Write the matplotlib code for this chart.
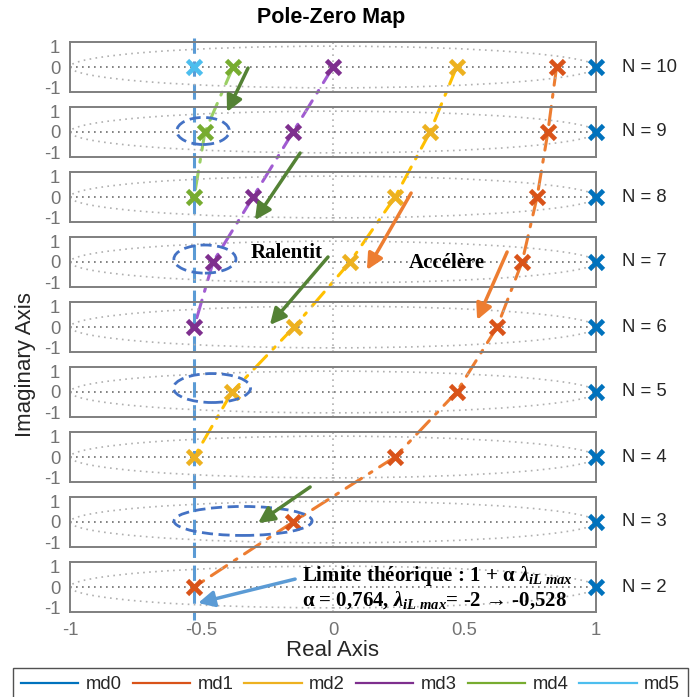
import matplotlib
matplotlib.use('Agg')
import matplotlib.pyplot as plt
from matplotlib.patches import Circle, Ellipse, ConnectionPatch
from matplotlib.lines import Line2D
import matplotlib.transforms as mtransforms

plt.rcParams['font.family'] = ['Liberation Sans', 'DejaVu Sans']
plt.rcParams['axes.unicode_minus'] = False
plt.rcParams['mathtext.fontset'] = 'custom'
plt.rcParams['mathtext.rm'] = 'Liberation Serif:bold'
plt.rcParams['mathtext.it'] = 'Liberation Serif:italic:bold'
plt.rcParams['mathtext.bf'] = 'Liberation Serif:bold'

# ---------------- data ----------------
N_values = [10, 9, 8, 7, 6, 5, 4, 3, 2]
mode_names = ['md0', 'md1', 'md2', 'md3', 'md4', 'md5']
# pole real parts per mode, listed from N=10 downwards
md0 = [1.0, 1.0, 1.0, 1.0, 1.0, 1.0, 1.0, 1.0, 1.0]
md1 = [0.85, 0.817, 0.776, 0.719, 0.624, 0.47, 0.236, -0.152, -0.528]
md2 = [0.47, 0.369, 0.236, 0.065, -0.148, -0.384, -0.528]
md3 = [0.0, -0.152, -0.304, -0.456, -0.528]
md4 = [-0.38, -0.487, -0.528]
md5 = [-0.528]
limit_value = -0.528
x_ticks = [-1, -0.5, 0, 0.5, 1]
x_ticklabels = ['-1', '-0.5', '0', '0.5', '1']
y_ticks = [-1, 0, 1]
y_ticklabels = ['-1', '0', '1']

modes = [md0, md1, md2, md3, md4, md5]
marker_colors = ['#0072BD', '#D95319', '#EDB120', '#7E2F8E', '#77AC30', '#4DBEEE']
path_colors = [None, '#ED7D31', '#FFC000', '#A15CD2', '#9BD065', None]

# ---------------- figure ----------------
W = H = 697
fig = plt.figure(figsize=(W / 100, H / 100), dpi=100)
fig.patch.set_facecolor('white')

left_px, right_px = 70, 596
top0, step, hpx = 42, 65, 50
spine_col = '#7f7f7f'
tick_col = '#737373'

axes = []
for i, N in enumerate(N_values):
    top = top0 + i * step
    ax = fig.add_axes([left_px / W, 1 - (top + hpx) / H,
                       (right_px - left_px) / W, hpx / H])
    ax.set_facecolor('none')
    ax.set_zorder(2)
    ax.set_xlim(-1, 1)
    ax.set_ylim(-1.2, 1.2)
    for s in ax.spines.values():
        s.set_color(spine_col)
        s.set_linewidth(1.4)
    ax.set_yticks(y_ticks)
    ax.set_yticklabels(y_ticklabels)
    ax.set_xticks(x_ticks)
    if i == len(N_values) - 1:
        ax.set_xticklabels(x_ticklabels)
    else:
        ax.set_xticklabels([])
    ax.tick_params(length=0, labelsize=13.3, colors=tick_col, pad=7)
    # grid: unit circle, real and imaginary axes
    ax.add_patch(Circle((0, 0), 1, fill=False, ec='#b0b0b0', lw=1.2,
                        ls=(0, (1, 2.6)), zorder=1))
    ax.axhline(0, color='#6e6e6e', lw=1.2, ls=(0, (1, 2.6)), zorder=1)
    ax.axvline(0, color='#b0b0b0', lw=1.2, ls=(0, (1, 2.6)), zorder=1)
    ax.text(1.05, 0.5, 'N = %d' % N, transform=ax.transAxes, ha='left',
            va='center', fontsize=13.3, color='#262626')
    axes.append(ax)

# poles
for vals, col in zip(modes, marker_colors):
    for k, v in enumerate(vals):
        axes[k].plot([v], [0], ls='none', marker='x', ms=10, mew=3.4,
                     color=col, clip_on=False, zorder=4)

# paths connecting the poles of one mode across N
for vals, col in zip(modes, path_colors):
    if col is None:
        continue
    for k in range(len(vals) - 1):
        con = ConnectionPatch(xyA=(vals[k], 0), coordsA=axes[k].transData,
                              xyB=(vals[k + 1], 0), coordsB=axes[k + 1].transData,
                              color=col, lw=2.2, linestyle=(0, (6, 3, 1, 3)),
                              zorder=1)
        fig.add_artist(con)

# theoretical limit line
blend = mtransforms.blended_transform_factory(axes[0].transData, fig.transFigure)
fig.add_artist(Line2D([limit_value, limit_value], [1 - 38 / H, 1 - 620 / H],
                      transform=blend, color='#5B9BD5', lw=2.2,
                      ls=(0, (5, 2.5)), zorder=1))

# annotation arrows: (panel_from, x, y, panel_to, x, y, color)
arrows = [
    (0, -0.323, -0.05, 1, -0.403, 0.96, '#548235'),
    (1, -0.125, -1.01, 2, -0.297, -1.11, '#548235'),
    (3, -0.019, 0.24, 4, -0.24, 0.10, '#548235'),
    (7, -0.087, 1.68, 7, -0.285, -0.05, '#548235'),
    (2, 0.297, 0.19, 3, 0.129, -0.38, '#ED7D31'),
    (3, 0.662, 0.48, 4, 0.548, 0.34, '#ED7D31'),
    (8, -0.144, 0.38, 8, -0.513, -0.77, '#5B9BD5'),
]
for pa, xa, ya, pb, xb, yb, col in arrows:
    arr = ConnectionPatch(xyA=(xa, ya), coordsA=axes[pa].transData,
                          xyB=(xb, yb), coordsB=axes[pb].transData,
                          arrowstyle='-|>', mutation_scale=24, color=col,
                          lw=2.5, shrinkA=0, shrinkB=0, zorder=5)
    fig.add_artist(arr)

# dashed highlight ellipses: (panel, cx, cy, w, h)
ellipses = [
    (1, -0.494, 0.05, 0.20, 1.30),
    (3, -0.487, 0.14, 0.236, 1.35),
    (5, -0.46, 0.19, 0.293, 1.39),
    (7, -0.342, 0.05, 0.525, 1.39),
]
for p, cx, cy, w, h in ellipses:
    axes[p].add_patch(Ellipse((cx, cy), w, h, fill=False, ec='#4472C4',
                              lw=2, ls=(0, (4, 2)), clip_on=False, zorder=5))

serif = ['Liberation Serif', 'DejaVu Serif']
axes[3].text(-0.177, 0.19, 'Ralentit', ha='center', va='baseline',
             fontsize=15, fontweight='bold', family=serif, clip_on=False, zorder=6)
axes[3].text(0.433, -0.29, 'Accélère', ha='center', va='baseline',
             fontsize=15, fontweight='bold', family=serif, clip_on=False, zorder=6)
axes[8].text(-0.118, 0.29, r'Limite théorique : 1 + α $\lambda_{iL\ max}$',
             ha='left', va='baseline', fontsize=15, fontweight='bold',
             family=serif, clip_on=False, zorder=6)
axes[8].text(-0.118, -0.91, r'α = 0,764, $\lambda_{iL\ max}$= -2 → -0,528',
             ha='left', va='baseline', fontsize=15, fontweight='bold',
             family=serif, clip_on=False, zorder=6)

# titles and labels
fig.text(331 / W, 1 - 18 / H, 'Pole-Zero Map', ha='center', va='center',
         fontsize=15.5, fontweight='bold', color='black')
fig.text(25 / W, 1 - 365 / H, 'Imaginary Axis', ha='center', va='center',
         rotation=90, fontsize=16, color='#262626')
fig.text(333 / W, 1 - 651 / H, 'Real Axis', ha='center', va='center',
         fontsize=16, color='#262626')

# legend
handles = [Line2D([], [], color=c, lw=1.6) for c in marker_colors]
leg = fig.legend(handles, mode_names, loc='upper center',
                 bbox_to_anchor=(350.5 / W, 1 - 668 / H), ncol=6,
                 fontsize=13.3, handlelength=3.1, handletextpad=0.4,
                 columnspacing=0.6, borderpad=0.45, borderaxespad=0.0,
                 frameon=True, fancybox=False, edgecolor='#262626')
leg.get_frame().set_linewidth(1.0)
for t in leg.get_texts():
    t.set_color('#262626')

fig.savefig('out.png', dpi=100)
